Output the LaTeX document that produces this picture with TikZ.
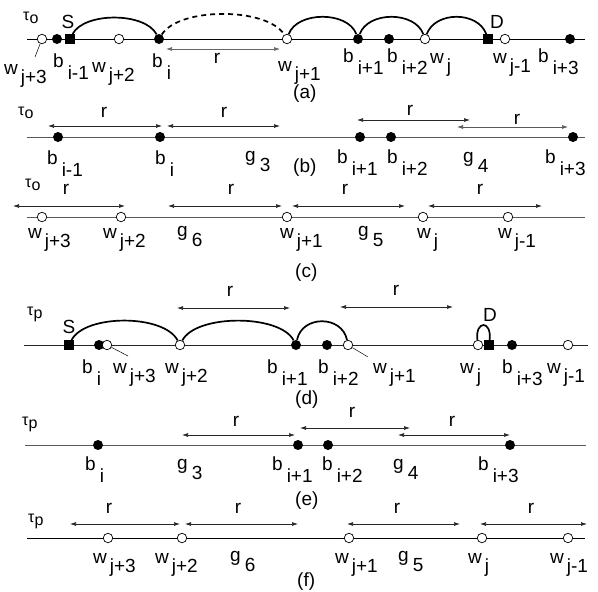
\documentclass[tikz,border=0pt]{standalone}
\usepackage{fontspec}
\setmainfont{Liberation Sans}
\usepackage{tikz}
\usetikzlibrary{arrows.meta,calc,positioning}
\newcommand{\bsub}[1]{b\hspace{4pt}\raisebox{-12pt}{#1}}
\newcommand{\wsub}[1]{w\hspace{3pt}\raisebox{-9pt}{#1}}
\newcommand{\gsub}[1]{g\hspace{4pt}\raisebox{-10pt}{#1}}
\newcommand{\tsub}[1]{{\fontsize{16}{18}\selectfont τ\raisebox{-3pt}{#1}}}

\begin{document}
\begin{tikzpicture}[x=1pt,y=-1pt,font=\fontsize{19}{21}\selectfont,
  wpt/.style={circle,draw,fill=white,line width=0.7pt,minimum size=9.5pt,inner sep=0pt},
  bpt/.style={circle,fill=black,minimum size=10pt,inner sep=0pt},
  spt/.style={rectangle,fill=black,minimum size=9.5pt,inner sep=0pt},
  lbl/.style={anchor=base west,inner sep=0pt},
  tline/.style={line width=0.8pt},
  gline/.style={line width=0.8pt,black!65},
  hop/.style={line width=1.7pt},
  rarr/.style={{Latex[length=6pt,width=4pt]}-{Latex[length=6pt,width=4pt]},line width=0.7pt,black!85},
  lead/.style={line width=0.5pt}]
  \useasboundingbox (0,0) rectangle (598,592);

  % (a) the original tour
  \draw[tline] (27,39) -- (585,39);
  \node[lbl] (a-tau) at (23,20) {\tsub{o}};
  \node[wpt] (a-w3) at (42,39) {};
  \node[bpt] (a-bm) at (57,39) {};
  \node[spt] (a-S) at (70,39) {};
  \node[wpt] (a-w2) at (119,39) {};
  \node[bpt] (a-b0) at (159,39) {};
  \node[wpt] (a-w1) at (287,39) {};
  \node[bpt] (a-b1) at (358,39) {};
  \node[bpt] (a-b2) at (389,39) {};
  \node[wpt] (a-w0) at (425,39) {};
  \node[spt] (a-D) at (488,39) {};
  \node[wpt] (a-wm) at (505,39) {};
  \node[bpt] (a-b3) at (570,39) {};
  \node (a-lS) at (68,22) {S};
  \node (a-lD) at (497,22) {D};
  \draw[hop] (a-S) .. controls +(14,-27) and +(-14,-27) .. (a-b0);
  \draw[hop,dash pattern=on 5pt off 4pt] (a-b0) .. controls +(20,-32) and +(-20,-32) .. (a-w1);
  \draw[hop] (a-w1) .. controls +(10,-28) and +(-10,-28) .. (a-b1);
  \draw[hop] (a-b1) .. controls +(10,-28) and +(-10,-28) .. (a-w0);
  \draw[hop] (a-w0) .. controls +(10,-28) and +(-10,-28) .. (a-D);
  \draw[rarr,black!60] (166,49) -- (280,49);
  \node (a-r) at (217,58) {r};
  \node[lbl] (a-lw3) at (4,74) {\wsub{j+3}};
  \draw[lead] (a-w3) -- (35,57);
  \node[lbl] (a-lbm) at (53,67) {\bsub{i-1}};
  \node[lbl] (a-lw2) at (92,72) {\wsub{j+2}};
  \node[lbl] (a-lb0) at (152,67) {\bsub{i}};
  \node[lbl] (a-lw1) at (278,71) {\wsub{j+1}};
  \node[lbl] (a-lb1) at (343,62) {\bsub{i+1}};
  \node[lbl] (a-lb2) at (387,62) {\bsub{i+2}};
  \node[lbl] (a-lw0) at (430,63) {\wsub{j}};
  \node[lbl] (a-lwm) at (493,63) {\wsub{j-1}};
  \node[lbl] (a-lb3) at (538,62) {\bsub{i+3}};
  \node[lbl] (a-cap) at (293,98) {(a)};

  % (b) black points only
  \draw[gline] (27,137) -- (585,137);
  \node[lbl] (b-tau) at (18,115) {\tsub{o}};
  \node[bpt] (b-bm) at (58,137) {};
  \node[bpt] (b-b0) at (160,137) {};
  \node[bpt] (b-b1) at (360,137) {};
  \node[bpt] (b-b2) at (391,137) {};
  \node[bpt] (b-b3) at (573,137) {};
  \draw[rarr] (48,126) -- (162,126);
  \draw[rarr] (167,126) -- (280,126);
  \draw[rarr] (357,120) -- (470,120);
  \draw[rarr,black!65] (457,127) -- (568,127);
  \node (b-r1) at (104,112) {r};
  \node (b-r2) at (224,112) {r};
  \node (b-r3) at (410,110) {r};
  \node (b-r4) at (517,119) {r};
  \node[lbl] (b-lbm) at (47,164) {\bsub{i-1}};
  \node[lbl] (b-lb0) at (155,164) {\bsub{i}};
  \node[lbl] (b-lg3) at (245,161) {\gsub{3}};
  \node[lbl] (b-lb1) at (337,163) {\bsub{i+1}};
  \node[lbl] (b-lb2) at (387,163) {\bsub{i+2}};
  \node[lbl] (b-lg4) at (463,162) {\gsub{4}};
  \node[lbl] (b-lb3) at (545,163) {\bsub{i+3}};
  \node[lbl] (b-cap) at (293,172) {(b)};

  % (c) white points only
  \draw[gline] (27,217) -- (585,217);
  \node[lbl] (c-tau) at (25,187) {\tsub{o}};
  \node[wpt] (c-w3) at (42,217) {};
  \node[wpt] (c-w2) at (121,217) {};
  \node[wpt] (c-w1) at (287,217) {};
  \node[wpt] (c-w0) at (423,217) {};
  \node[wpt] (c-wm) at (508,217) {};
  \draw[rarr] (13,206) -- (125,206);
  \draw[rarr] (168,206) -- (282,206);
  \draw[rarr] (292,206) -- (405,206);
  \draw[rarr] (428,206) -- (542,206);
  \node (c-r1) at (66,189) {r};
  \node (c-r2) at (231,189) {r};
  \node (c-r3) at (345,189) {r};
  \node (c-r4) at (480,189) {r};
  \node[lbl] (c-lw3) at (28,238) {\wsub{j+3}};
  \node[lbl] (c-lw2) at (103,238) {\wsub{j+2}};
  \node[lbl] (c-lg6) at (177,236) {\gsub{6}};
  \node[lbl] (c-lw1) at (280,238) {\wsub{j+1}};
  \node[lbl] (c-lg5) at (358,236) {\gsub{5}};
  \node[lbl] (c-lw0) at (417,238) {\wsub{j}};
  \node[lbl] (c-lwm) at (498,238) {\wsub{j-1}};
  \node[lbl] (c-cap) at (295,277) {(c)};

  % (d) the improved tour
  \draw[tline,black!85] (24,345) -- (588,345);
  \node[lbl] (d-tau) at (27,315) {\tsub{p}};
  \node[spt] (d-S) at (69,345) {};
  \node[bpt] (d-b0) at (99,345) {};
  \node[wpt] (d-w3) at (107,345) {};
  \node[wpt] (d-w2) at (180,345) {};
  \node[bpt] (d-b1) at (296,345) {};
  \node[bpt] (d-b2) at (327,345) {};
  \node[wpt] (d-w1) at (348,345) {};
  \node[wpt] (d-w0) at (478,345) {};
  \node[spt] (d-D) at (489,345) {};
  \node[bpt] (d-b3) at (512,345) {};
  \node[wpt] (d-wm) at (568,345) {};
  \node (d-lS) at (69,327) {S};
  \node (d-lD) at (490,315) {D};
  \draw[hop] (d-S) .. controls +(16,-31) and +(-16,-31) .. (d-w2);
  \draw[hop] (d-w2) .. controls +(16,-31) and +(-16,-31) .. (d-b1);
  \draw[hop] (d-b1) .. controls +(6,-30) and +(-6,-30) .. (d-w1);
  \draw[hop] (d-w0) .. controls +(-3,-25) and +(3,-25) .. (d-D);
  \draw[rarr] (177,308) -- (290,308);
  \draw[rarr] (340,307) -- (453,307);
  \node (d-r1) at (230,291) {r};
  \node (d-r2) at (396,290) {r};
  \node[lbl] (d-lb0) at (82,373) {\bsub{i}};
  \node[lbl] (d-lw3) at (113,373) {\wsub{j+3}};
  \draw[lead] (d-w3) -- (128,356);
  \node[lbl] (d-lw2) at (165,373) {\wsub{j+2}};
  \node[lbl] (d-lb1) at (267,373) {\bsub{i+1}};
  \node[lbl] (d-lb2) at (318,373) {\bsub{i+2}};
  \node[lbl] (d-lw1) at (373,373) {\wsub{j+1}};
  \draw[lead] (d-w1) -- (368,357);
  \node[lbl] (d-lw0) at (460,373) {\wsub{j}};
  \node[lbl] (d-lb3) at (502,373) {\bsub{i+3}};
  \node[lbl] (d-lwm) at (547,373) {\wsub{j-1}};
  \node[lbl] (d-cap) at (295,404) {(d)};

  % (e) black points only
  \draw[gline] (25,445) -- (586,445);
  \node[lbl] (e-tau) at (22,425) {\tsub{p}};
  \node[bpt] (e-b0) at (98,445) {};
  \node[bpt] (e-b1) at (298,445) {};
  \node[bpt] (e-b2) at (328,445) {};
  \node[bpt] (e-b3) at (510,445) {};
  \draw[rarr] (182,435) -- (295,435);
  \draw[rarr] (300,428) -- (410,428);
  \draw[rarr] (398,435) -- (510,435);
  \node (e-r1) at (236,421) {r};
  \node (e-r2) at (352,412) {r};
  \node (e-r3) at (452,421) {r};
  \node[lbl] (e-lb0) at (85,470) {\bsub{i}};
  \node[lbl] (e-lg3) at (177,469) {\gsub{3}};
  \node[lbl] (e-lb1) at (272,470) {\bsub{i+1}};
  \node[lbl] (e-lb2) at (322,470) {\bsub{i+2}};
  \node[lbl] (e-lg4) at (393,469) {\gsub{4}};
  \node[lbl] (e-lb3) at (478,470) {\bsub{i+3}};
  \node[lbl] (e-cap) at (295,505) {(e)};

  % (f) white points only
  \draw[tline] (27,538) -- (585,538);
  \node[lbl] (f-tau) at (28,522) {\tsub{p}};
  \node[wpt] (f-w3) at (108,538) {};
  \node[wpt] (f-w2) at (182,538) {};
  \node[wpt] (f-w1) at (349,538) {};
  \node[wpt] (f-w0) at (482,538) {};
  \node[wpt] (f-wm) at (568,538) {};
  \draw[rarr] (70,524) -- (180,524);
  \draw[rarr] (185,524) -- (298,524);
  \draw[rarr] (347,524) -- (460,524);
  \draw[rarr] (480,524) -- (587,524);
  \node (f-r1) at (109,508) {r};
  \node (f-r2) at (238,508) {r};
  \node (f-r3) at (397,508) {r};
  \node (f-r4) at (531,508) {r};
  \node[lbl] (f-lw3) at (93,563) {\wsub{j+3}};
  \node[lbl] (f-lw2) at (155,563) {\wsub{j+2}};
  \node[lbl] (f-lg6) at (230,561) {\gsub{6}};
  \node[lbl] (f-lw1) at (335,563) {\wsub{j+1}};
  \node[lbl] (f-lg5) at (398,561) {\gsub{5}};
  \node[lbl] (f-lw0) at (468,563) {\wsub{j}};
  \node[lbl] (f-lwm) at (550,563) {\wsub{j-1}};
  \node[lbl] (f-cap) at (297,586) {(f)};
\end{tikzpicture}
\end{document}
